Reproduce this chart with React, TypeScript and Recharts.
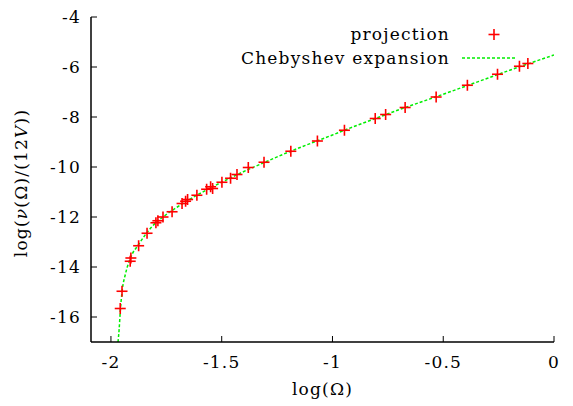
import { ComposedChart, Line, Scatter, XAxis, YAxis, Legend, Label } from 'recharts';

// projection points (log Omega, log nu/(12V))
const projX = [
  -1.958, -1.95, -1.913, -1.91, -1.875, -1.837, -1.797, -1.788, -1.765, -1.724,
  -1.679, -1.663, -1.654, -1.612, -1.568, -1.55, -1.541, -1.499, -1.46, -1.431,
  -1.38, -1.309, -1.188, -1.068, -0.946, -0.807, -0.76, -0.672, -0.532, -0.391,
  -0.255, -0.156, -0.118,
];
const projY = [
  -15.66, -14.97, -13.77, -13.64, -13.15, -12.65, -12.23, -12.15, -12.0, -11.79,
  -11.46, -11.37, -11.3, -11.13, -10.89, -10.79, -10.86, -10.61, -10.45, -10.3,
  -10.02, -9.81, -9.37, -8.96, -8.53, -8.06, -7.9, -7.62, -7.2, -6.73,
  -6.29, -5.97, -5.86,
];

// Chebyshev expansion curve
const chebX = [
  -1.968, -1.963, -1.958, -1.95, -1.935, -1.91, -1.875, -1.84, -1.8, -1.75,
  -1.7, -1.65, -1.6, -1.55, -1.5, -1.4, -1.3, -1.2, -1.1, -1.0,
  -0.9, -0.8, -0.7, -0.6, -0.5, -0.4, -0.3, -0.2, -0.1, 0.0,
];
const chebY = [
  -17.0, -16.5, -15.8, -15.0, -14.3, -13.6, -13.1, -12.65, -12.25, -11.9,
  -11.6, -11.32, -11.07, -10.83, -10.61, -10.18, -9.79, -9.41, -9.06, -8.72,
  -8.37, -8.04, -7.71, -7.4, -7.09, -6.77, -6.45, -6.13, -5.82, -5.52,
];

const xTicks = [-2, -1.5, -1, -0.5, 0];
const yTicks = [-16, -14, -12, -10, -8, -6, -4];

const projData = projX.map((x, i) => ({ x, y: projY[i] }));
const chebData = chebX.map((x, i) => ({ x, y: chebY[i] }));

const FONT = '"DejaVu Serif", serif';
const FS = 17;
const LS = 1.2;
const RED = '#ff0000';
const GREEN = '#00ee00';
const TICK = 6;

const fmt = (v: number) => String(v);

const Plus = (props: any) => {
  const { cx, cy } = props;
  if (cx == null || cy == null) return null;
  return (
    <g stroke={RED} strokeWidth={1.6}>
      <line x1={cx - 5.5} y1={cy} x2={cx + 5.5} y2={cy} />
      <line x1={cx} y1={cy - 5.5} x2={cx} y2={cy + 5.5} />
    </g>
  );
};

const BottomTick = (props: any) => {
  const { x, y, payload } = props;
  return (
    <g>
      <line x1={x} y1={y} x2={x} y2={y - TICK} stroke="#000" strokeWidth={1} />
      <text x={x} y={y + 26} textAnchor="middle" fontFamily={FONT} fontSize={FS} letterSpacing={LS} fill="#000">
        {fmt(payload.value)}
      </text>
    </g>
  );
};

const TopTick = (props: any) => {
  const { x, y } = props;
  return <line x1={x} y1={y} x2={x} y2={y + TICK} stroke="#000" strokeWidth={1} />;
};

const LeftTick = (props: any) => {
  const { x, y, payload } = props;
  return (
    <g>
      <line x1={x} y1={y} x2={x + TICK} y2={y} stroke="#000" strokeWidth={1} />
      <text x={x - 10} y={y + 6} textAnchor="end" fontFamily={FONT} fontSize={FS} letterSpacing={LS} fill="#000">
        {fmt(payload.value)}
      </text>
    </g>
  );
};

const RightTick = (props: any) => {
  const { x, y } = props;
  return <line x1={x} y1={y} x2={x - TICK} y2={y} stroke="#000" strokeWidth={1} />;
};

const KeyBox = () => (
  <svg width={320} height={56} style={{ display: 'block' }}>
    <g fontFamily={FONT} fontSize={FS} letterSpacing={LS} fill="#000">
      <text x={230} y={22} textAnchor="end">projection</text>
      <text x={230} y={46} textAnchor="end">Chebyshev expansion</text>
    </g>
    <g stroke={RED} strokeWidth={1.6}>
      <line x1={268.5} y1={16.5} x2={279.5} y2={16.5} />
      <line x1={274} y1={11} x2={274} y2={22} />
    </g>
    <line x1={242} y1={40} x2={295} y2={40} stroke={GREEN} strokeWidth={1.5} strokeDasharray="3 2" />
  </svg>
);

const YTitle = () => {
  const cx = 27;
  const cy = 183;
  return (
    <text
      x={cx}
      y={cy}
      transform={`rotate(-90 ${cx} ${cy})`}
      textAnchor="middle"
      fontFamily={FONT}
      fontSize={FS}
      letterSpacing={LS}
      fill="#000"
    >
      log(<tspan fontStyle="italic">ν</tspan>(Ω)/(12<tspan fontStyle="italic">V</tspan>))
    </text>
  );
};

export default function App() {
  return (
    <div style={{ position: 'absolute', left: 0, top: 0, width: 573, height: 406, background: '#fff' }}>
      <ComposedChart width={573} height={406} margin={{ top: 17, right: 19, bottom: 0, left: 0 }}>
        <XAxis
          xAxisId="b"
          dataKey="x"
          type="number"
          domain={[-2.09, 0]}
          allowDataOverflow
          ticks={xTicks}
          interval={0}
          height={64}
          tickSize={0}
          tickMargin={0}
          tickLine={false}
          axisLine={{ stroke: '#000', strokeWidth: 1.5 }}
          tick={<BottomTick />}
        >
          <Label
            value="log(Ω)"
            position="insideBottom"
            content={(p: any) => {
              const vb = p.viewBox;
              return (
                <text x={vb.x + vb.width / 2} y={395} textAnchor="middle" fontFamily={FONT} fontSize={FS} letterSpacing={LS} fill="#000">
                  log(Ω)
                </text>
              );
            }}
          />
        </XAxis>
        <XAxis
          xAxisId="t"
          dataKey="x"
          type="number"
          orientation="top"
          domain={[-2.09, 0]}
          allowDataOverflow
          ticks={xTicks}
          interval={0}
          height={0}
          tickSize={0}
          tickMargin={0}
          tickLine={false}
          axisLine={{ stroke: '#000', strokeWidth: 1.5 }}
          tick={<TopTick />}
        />
        <YAxis
          yAxisId="l"
          type="number"
          domain={[-17, -4]}
          allowDataOverflow
          ticks={yTicks}
          interval={0}
          width={91}
          tickSize={0}
          tickMargin={0}
          tickLine={false}
          axisLine={{ stroke: '#000', strokeWidth: 1.5 }}
          tick={<LeftTick />}
        >
          <Label content={<YTitle />} />
        </YAxis>
        <YAxis
          yAxisId="r"
          type="number"
          orientation="right"
          domain={[-17, -4]}
          allowDataOverflow
          ticks={yTicks}
          interval={0}
          width={0}
          tickSize={0}
          tickMargin={0}
          tickLine={false}
          axisLine={{ stroke: '#000', strokeWidth: 1.5 }}
          tick={<RightTick />}
        />
        <Legend
          layout="vertical"
          align="center"
          verticalAlign="middle"
          content={<KeyBox />}
          wrapperStyle={{ position: 'absolute', left: 220, top: 18, width: 320, height: 56 }}
        />
        <Line
          xAxisId="b"
          yAxisId="l"
          data={chebData}
          dataKey="y"
          name="Chebyshev expansion"
          type="monotone"
          stroke={GREEN}
          strokeWidth={1.5}
          strokeDasharray="3 2"
          dot={false}
          activeDot={false}
          isAnimationActive={false}
        />
        <Scatter
          xAxisId="b"
          yAxisId="l"
          data={projData}
          dataKey="y"
          name="projection"
          shape={<Plus />}
          isAnimationActive={false}
        />
      </ComposedChart>
    </div>
  );
}
